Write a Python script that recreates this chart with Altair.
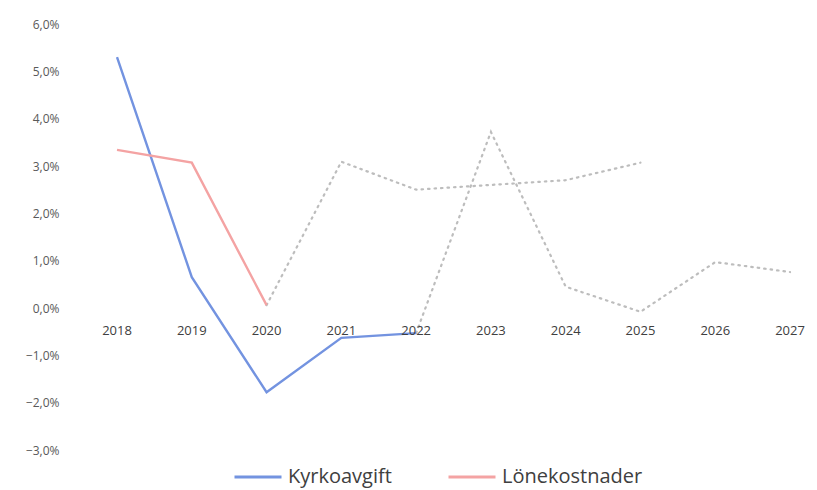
import altair as alt
import pandas as pd

years = [2018, 2019, 2020, 2021, 2022, 2023, 2024, 2025, 2026, 2027]

# Kyrkoavgift: actual (solid) 2018-2022, forecast (dotted) 2022-2027
kyrko_years = [2018, 2019, 2020, 2021, 2022]
kyrko_vals = [5.3, 0.65, -1.78, -0.63, -0.53]
kyrko_fc_years = [2022, 2023, 2024, 2025, 2026, 2027]
kyrko_fc_vals = [-0.53, 3.72, 0.45, -0.08, 0.97, 0.76]

# Lönekostnader: actual (solid) 2018-2020, forecast (dotted) 2020-2025
lone_years = [2018, 2019, 2020]
lone_vals = [3.34, 3.07, 0.06]
lone_fc_years = [2020, 2021, 2022, 2023, 2024, 2025]
lone_fc_vals = [0.06, 3.09, 2.5, 2.6, 2.7, 3.07]

series_names = ["Kyrkoavgift", "Lönekostnader"]
series_colors = ["#7393E0", "#F4A3A3"]

solid = pd.concat([
    pd.DataFrame({"year": kyrko_years, "value": kyrko_vals, "series": series_names[0]}),
    pd.DataFrame({"year": lone_years, "value": lone_vals, "series": series_names[1]}),
])
dotted = pd.concat([
    pd.DataFrame({"year": kyrko_fc_years, "value": kyrko_fc_vals, "series": series_names[0]}),
    pd.DataFrame({"year": lone_fc_years, "value": lone_fc_vals, "series": series_names[1]}),
])
labels = pd.DataFrame({"year": years, "zero": [0] * len(years), "label": [str(y) for y in years]})

FONT = "Open Sans"

x_scale = alt.Scale(domain=[2017.358, 2027.12], nice=False, zero=False)
y_scale = alt.Scale(domain=[-3, 6], nice=False)

x_enc = alt.X("year:Q", scale=x_scale, axis=None)
y_enc = alt.Y(
    "value:Q",
    scale=y_scale,
    title=None,
    axis=alt.Axis(
        values=[-3, -2, -1, 0, 1, 2, 3, 4, 5, 6],
        labelExpr="replace(format(datum.value, '.1f'), '.', ',') + '%'",
        grid=False, domain=False, ticks=False,
        labelColor="#595959", labelFontSize=12, labelFont=FONT, labelPadding=10,
    ),
)

dotted_layer = alt.Chart(dotted).mark_line(
    strokeDash=[1.5, 5], strokeWidth=2.2, strokeCap="round"
).encode(
    x=x_enc, y=y_enc, detail="series:N", color=alt.value("#BDBDBD")
)

solid_layer = alt.Chart(solid).mark_line(strokeWidth=2.4).encode(
    x=x_enc,
    y=y_enc,
    color=alt.Color(
        "series:N",
        scale=alt.Scale(domain=series_names, range=series_colors),
        legend=alt.Legend(
            title=None, orient="none", direction="horizontal", columns=2,
            legendX=164, legendY=428,
            symbolType="stroke", symbolSize=2209, symbolStrokeWidth=3,
            labelFontSize=20, labelFont=FONT, labelColor="#404040",
            labelOffset=5, columnPadding=50, padding=0, labelLimit=300,
        ),
    ),
)

text_layer = alt.Chart(labels).mark_text(
    dy=23, fontSize=13, font=FONT, color="#404040"
).encode(
    x=alt.X("year:Q", scale=x_scale, axis=None),
    y=alt.Y("zero:Q", scale=y_scale),
    text="label:N",
)

chart = alt.layer(dotted_layer, solid_layer, text_layer).properties(
    width=730, height=426,
    autosize=alt.AutoSizeParams(type="none"),
    padding={"left": 61, "top": 16, "right": 10, "bottom": 42},
    background="white",
).configure_view(strokeWidth=0)

chart.save("out.html", embed_options={"renderer": "svg", "actions": False})
